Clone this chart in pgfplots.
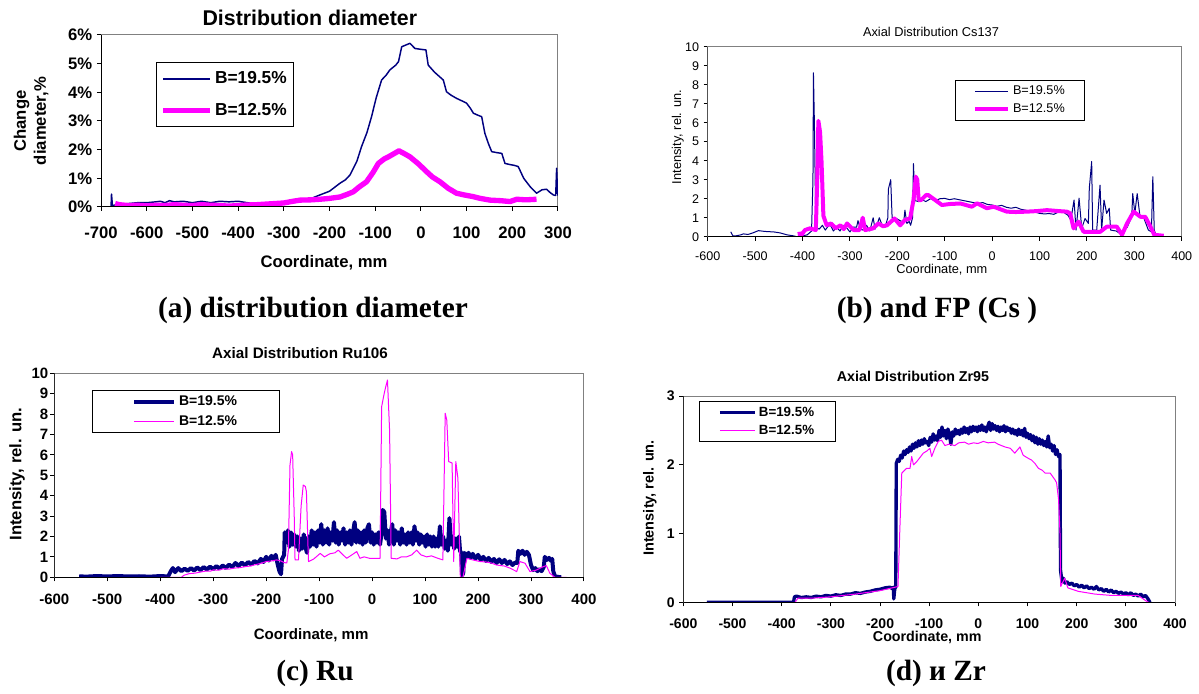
\documentclass[border=0pt]{standalone}
\usepackage{pgfplots}
\pgfplotsset{compat=1.18}
\usepackage{fontspec}
\setmainfont{Liberation Sans}
\newfontfamily\capfont{Liberation Serif}

\definecolor{navy}{RGB}{0,0,128}
\definecolor{mag}{RGB}{255,0,255}

\pgfplotsset{
  excel/.style={
    scale only axis, anchor=south west,
    axis line style={draw=gray, line width=0.75pt},
    tick align=outside, xtick pos=left, ytick pos=left,
    major tick length=3pt,
    tick style={black, line width=0.75pt},
    /pgf/number format/assume math mode=true,
    legend cell align=left,
    title style={anchor=center, yshift=0pt},
    xlabel style={anchor=center},
    ylabel style={anchor=center},
  },
}

\begin{document}
\begin{tikzpicture}
\useasboundingbox (0,0) rectangle (899.25pt,519.75pt);

% ---------- (a) diameter ----------
\begin{axis}[excel, at={(75.75pt,364.5pt)}, width=342.75pt, height=129pt,
  xmin=-700, xmax=300, ymin=0, ymax=6,
  xtick={-700,-600,...,300}, ytick={0,1,...,6},
  yticklabels={0\%,1\%,2\%,3\%,4\%,5\%,6\%},
  ticklabel style={font=\bfseries\fontsize{12.5}{15}\selectfont},
  xticklabel style={yshift=-8pt},
  title={Distribution diameter},
  title style={at={(0.457,1.053)}, font=\bfseries\fontsize{16}{19}\selectfont},
  xlabel={Coordinate, mm},
  xlabel style={at={(0.488,-0.326)}, font=\bfseries\fontsize{12.5}{15}\selectfont},
  ylabel={Change\\diameter,\%},
  ylabel style={at={(-0.153,0.5)}, align=center, font=\bfseries\fontsize{12.5}{15}\selectfont},
  legend image code/.code={\draw[#1] (0pt,0pt) -- (35pt,0pt);},
  legend style={at={(0.12,0.843)}, anchor=north west, draw=black, line width=0.75pt,
    font=\bfseries\fontsize{13}{15}\selectfont, inner xsep=3pt, inner ysep=5pt, row sep=9pt},
]
\addplot[navy, line width=1.1pt, line join=round] coordinates {
(-678,0.0) (-677,0.45) (-675,0.05) (-665,0.08) (-650,0.1) (-640,0.12) (-620,0.15)
(-600,0.15) (-580,0.18) (-570,0.2) (-560,0.15) (-550,0.22) (-540,0.18) (-520,0.2)
(-500,0.15) (-480,0.2) (-460,0.15) (-440,0.2) (-420,0.18) (-400,0.2) (-380,0.15)
(-360,0.12) (-340,0.1) (-320,0.05) (-300,0.12) (-280,0.2) (-264,0.24) (-240,0.3)
(-221,0.42) (-200,0.55) (-177,0.83) (-165,0.95) (-155,1.12) (-140,1.6) (-130,2.1)
(-118,2.6) (-108,3.15) (-98,3.8) (-86,4.43) (-76,4.6) (-68,4.78) (-55,4.95)
(-49,5.07) (-42,5.59) (-33,5.65) (-24,5.71) (-13,5.53) (0,5.5) (11,5.48) (16,4.95)
(30,4.7) (49,4.43) (56,4.02) (66,3.9) (78,3.79) (90,3.7) (100,3.62) (108,3.45)
(115,3.27) (125,3.2) (133,3.15) (140,2.57) (148,2.2) (155,1.93) (165,1.9) (177,1.87)
(184,1.52) (195,1.48) (205,1.45) (213,1.41) (225,1.0) (239,0.71) (253,0.48)
(265,0.6) (275,0.62) (283,0.5) (290,0.42) (295,0.4) (297,1.35) (299,0.5) (300,0.4)
};
\addlegendentry{B=19.5\%}
\addplot[mag, line width=4pt, line join=round] coordinates {
(-669,0.12) (-660,0.08) (-640,0.05) (-620,0.06) (-600,0.04) (-580,0.06) (-560,0.05)
(-540,0.08) (-520,0.06) (-500,0.05) (-480,0.08) (-460,0.06) (-440,0.05) (-420,0.03)
(-400,0.05) (-380,0.07) (-360,0.08) (-340,0.1) (-320,0.12) (-300,0.14) (-280,0.2)
(-264,0.24) (-240,0.25) (-221,0.27) (-200,0.3) (-177,0.35) (-160,0.45) (-148,0.53)
(-135,0.7) (-119,0.88) (-105,1.2) (-93,1.52) (-80,1.68) (-71,1.75) (-60,1.85)
(-48,1.96) (-35,1.85) (-24,1.75) (-5,1.5) (12.6,1.23) (25,1.05) (41.8,0.88)
(60,0.65) (78,0.48) (95,0.42) (115,0.36) (130,0.3) (151,0.24) (175,0.22) (195,0.19)
(210,0.27) (230,0.25) (253,0.27)
};
\addlegendentry{B=12.5\%}
\draw[black, line width=0.75pt] (rel axis cs:0,1) -- (rel axis cs:0,0) -- (rel axis cs:1,0);
\end{axis}

% ---------- (b) Cs137 ----------
\begin{axis}[excel, at={(530.8pt,342.2pt)}, width=355.5pt, height=142.5pt,
  xmin=-600, xmax=400, ymin=0, ymax=10,
  xtick={-600,-500,...,400}, ytick={0,1,...,10},
  ticklabel style={font=\fontsize{9.4}{11}\selectfont},
  xticklabel style={yshift=-4.5pt},
  title={Axial Distribution Cs137},
  title style={at={(0.471,1.036)}, font=\fontsize{9.6}{11}\selectfont},
  xlabel={Coordinate, mm},
  xlabel style={at={(0.494,-0.175)}, font=\fontsize{9.6}{11}\selectfont},
  ylabel={Intensity, rel. un.},
  ylabel style={at={(-0.063,0.525)}, font=\fontsize{9.6}{11}\selectfont},
  legend image code/.code={\draw[#1] (0pt,0pt) -- (25pt,0pt);},
  legend style={at={(0.522,0.825)}, anchor=north west, draw=black, line width=0.75pt,
    font=\fontsize{9.5}{11}\selectfont, inner xsep=13pt, inner ysep=2pt, row sep=1.5pt},
]
\addplot[navy, line width=0.75pt, line join=round] coordinates {
(-551.5,0.26) (-547,0.05) (-540,0.05) (-530,0.1) (-525,0.15) (-515,0.12) (-505,0.2)
(-493,0.32) (-480,0.28) (-460,0.25) (-447,0.2) (-433,0.1) (-420,0.05) (-412,0.0)
(-405,0.02) (-390,0.1) (-381,0.3) (-378,3.0) (-377,8.63) (-375,6.0) (-372,0.5)
(-365,0.4) (-358,0.6) (-352,0.35) (-346,0.55) (-341,0.6) (-335,0.3) (-328,0.5)
(-321,0.3) (-314,0.6) (-308,0.5) (-300,0.25) (-293,0.5) (-286,0.5) (-283,0.85)
(-278,0.4) (-272,0.35) (-265,0.6) (-258,0.3) (-251,1.0) (-247,0.4) (-242,0.7)
(-238,1.0) (-232,0.6) (-226,0.5) (-220,1.0) (-219,2.5) (-214,3.0) (-211,1.0)
(-205,1.0) (-198,0.9) (-191,0.8) (-186,0.9) (-184,1.4) (-180,0.7) (-175,0.8)
(-172,0.6) (-168,1.0) (-166,3.85) (-163,1.9) (-155,1.85) (-148,1.95) (-140,1.85)
(-130,2.0) (-120,1.9) (-110,2.0) (-100,2.02) (-90,1.95) (-80,2.0) (-70,1.95)
(-60,1.9) (-50,1.85) (-40,1.8) (-30,1.75) (-20,1.8) (-10,1.7) (0,1.67) (10,1.6)
(20,1.65) (30,1.55) (40,1.5) (50,1.55) (60,1.45) (70,1.4) (80,1.35) (90,1.3)
(100,1.23) (110,1.2) (120,1.22) (130,1.18) (140,1.3) (150,1.3) (160,1.13) (166,0.88)
(172.8,1.93) (177,0.35) (183.4,2.03) (189,0.44) (196,0.96) (203,0.7) (205,2.55)
(210,3.96) (212,0.35) (220.6,0.35) (227.6,2.72) (231,0.35) (236,1.93) (241.6,1.23)
(247,1.5) (250,0.35) (262,0.3) (269,0.18) (285,0.5) (294.5,1.05) (296.6,2.27)
(301,1.23) (306,2.27) (312,1.05) (319,1.05) (329.6,0.35) (336,0.26) (339,3.16)
(342,0.35) (347,0)
};
\addlegendentry{B=19.5\%}
\addplot[mag, line width=3pt, line join=round] coordinates {
(-406.7,0.26) (-405,0) (-395,0.35) (-384.6,0.44) (-372,0.35) (-369,3.0) (-366.6,6.1)
(-363,5.5) (-360,4.0) (-356,1.1) (-349,0.6) (-340,0.7) (-330,0.45) (-320,0.6)
(-313,0.4) (-306,0.7) (-292,0.35) (-280,0.35) (-273,1.0) (-268,0.35) (-251,0.44)
(-240,0.7) (-230,0.55) (-222,0.6) (-206,0.96) (-194,0.6) (-184,0.88) (-173,0.96)
(-166,1.93) (-161,3.16) (-158,3.0) (-155,1.93) (-150,1.93) (-139,2.2) (-134.6,2.19)
(-124,2.0) (-106,1.67) (-90,1.72) (-67,1.75) (-42.6,1.58) (-32,1.76) (-11,1.5)
(3,1.58) (31,1.32) (50,1.3) (73,1.32) (95,1.35) (115.5,1.4) (140,1.35) (157.7,1.32)
(164.7,1.23) (171.8,0.44) (182.3,0.79) (193,0.26) (228,0.26) (242,0.53) (263,0.53)
(274,0.1) (284.6,0.7) (298.7,1.32) (312.8,1.05) (323,1.05) (334,0.53) (342,0.1)
(362,0.05)
};
\addlegendentry{B=12.5\%}
\draw[black, line width=0.75pt] (rel axis cs:0,1) -- (rel axis cs:0,0) -- (rel axis cs:1,0);
\end{axis}

% ---------- (c) Ru106 ----------
\begin{axis}[excel, at={(40.7pt,86.8pt)}, width=397.3pt, height=153pt,
  xmin=-600, xmax=400, ymin=0, ymax=10,
  xtick={-600,-500,...,400}, ytick={0,1,...,10},
  ticklabel style={font=\bfseries\fontsize{11.25}{13}\selectfont},
  xticklabel style={yshift=-6pt},
  yticklabel style={xshift=2pt},
  title={Axial Distribution Ru106},
  title style={at={(0.464,1.06)}, font=\bfseries\fontsize{11.4}{13}\selectfont},
  xlabel={Coordinate, mm},
  xlabel style={at={(0.485,-0.283)}, font=\bfseries\fontsize{11.3}{13}\selectfont},
  ylabel={Intensity, rel. un.},
  ylabel style={at={(-0.070,0.506)}, font=\bfseries\fontsize{12.5}{15}\selectfont},
  legend image code/.code={\draw[#1] (0pt,0pt) -- (30pt,0pt);},
  legend style={at={(0.071,0.918)}, anchor=north west, draw=black, line width=0.75pt,
    font=\bfseries\fontsize{10.5}{12}\selectfont, inner xsep=30pt, inner ysep=2pt, row sep=2pt},
]
\addplot[navy, line width=3pt, line join=round] coordinates {
(-553,0.05) (-540,0.03) (-520,0.06) (-500,0.04) (-480,0.06) (-460,0.04) (-440,0.05)
(-420,0.03) (-400,0.06) (-385,0.04) (-380,0.3) (-376,0.45) (-372,0.25) (-366,0.45)
(-360,0.3) (-354,0.42) (-348,0.32) (-342,0.45) (-336,0.33) (-330,0.48) (-324,0.35)
(-318,0.5) (-312,0.38) (-306,0.52) (-300,0.4) (-294,0.55) (-288,0.42) (-282,0.58)
(-276,0.45) (-270,0.62) (-264,0.5) (-258,0.7) (-252,0.55) (-246,0.72) (-240,0.58)
(-234,0.75) (-228,0.62) (-222,0.8) (-216,0.68) (-210,0.9) (-205,0.75) (-200,1.0)
(-195,0.82) (-190,1.05) (-186,0.88) (-182,1.1) (-178,0.6) (-175,0.3) (-172,0.15)
(-170,0.9) (-168,1.0) (-166,1.1) (-165,2.2) (-162,1.7) (-159,2.3) (-156,1.5)
(-153,2.2) (-150,1.6) (-147,2.1) (-144,1.5) (-141,2.0) (-138,1.3) (-135,1.9)
(-132,1.4) (-129,2.1) (-126,1.5) (-123,1.2) (-120,2.0) (-117,1.5) (-114,2.3)
(-111,1.6) (-108,2.2) (-105,1.5) (-102,2.3) (-99,1.7) (-96,2.6) (-93,1.6) (-90,2.3)
(-87,1.7) (-84,2.4) (-81,1.6) (-78,2.2) (-75,1.8) (-72,2.7) (-69,1.7) (-66,2.3)
(-63,1.6) (-60,2.2) (-57,1.8) (-54,2.4) (-51,1.6) (-48,2.2) (-45,1.7) (-42,2.3)
(-39,1.6) (-36,2.2) (-33,2.7) (-30,1.7) (-27,2.3) (-24,1.7) (-21,2.2) (-18,1.6)
(-15,2.3) (-12,1.7) (-9,2.4) (-6,2.6) (-3,1.7) (0,2.2) (3,1.6) (6,2.1) (9,1.7)
(12,2.2) (15,1.6) (18,2.2) (20,3.3) (23,3.2) (26,1.9) (29,2.3) (32,1.6) (35,2.2)
(38,2.6) (41,1.6) (44,2.3) (47,1.8) (50,2.2) (53,1.6) (56,2.4) (59,1.7) (62,2.1)
(65,1.6) (68,2.2) (71,1.7) (74,2.2) (77,1.6) (80,2.5) (83,1.8) (86,2.2) (89,1.6)
(92,2.1) (95,1.7) (98,2.0) (101,1.5) (104,2.1) (107,1.6) (110,2.0) (113,1.5)
(116,2.0) (119,1.5) (122,1.9) (125,1.5) (128,2.5) (131,1.6) (134,2.0) (137,1.4)
(140,1.8) (143,1.3) (146,2.9) (149,1.6) (152,2.0) (155,1.4) (158,1.9) (161,1.5)
(164,2.0) (166,1.3) (168,1.2) (170,0.1) (172,0.2) (174,1.2) (178,1.0) (182,1.2)
(186,0.95) (190,1.15) (195,0.9) (200,1.1) (205,0.85) (210,1.0) (215,0.8) (220,0.95)
(225,0.75) (230,0.9) (235,0.7) (240,0.88) (245,0.7) (250,0.85) (255,0.65) (260,0.78)
(265,0.6) (270,0.72) (274,0.7) (276,1.3) (280,1.15) (284,1.3) (288,1.1) (292,1.25)
(296,1.1) (300,0.6) (304,0.35) (308,0.45) (312,0.3) (316,0.4) (320,0.3) (324,0.5)
(326,1.0) (330,0.85) (334,0.95) (338,0.8) (340,0.9) (342,0.3) (345,0.05) (350,0.02)
(357,0.0)
};
\addlegendentry{B=19.5\%}
\addplot[mag, line width=0.75pt, line join=round] coordinates {
(-400,0) (-360,0) (-355,0.1) (-345,0.18) (-335,0.2) (-325,0.25) (-315,0.3) (-305,0.3)
(-300,0.36) (-290,0.35) (-280,0.42) (-270,0.4) (-260,0.45) (-250,0.47) (-240,0.52)
(-230,0.55) (-220,0.62) (-210,0.68) (-200,0.77) (-190,0.8) (-180,0.85) (-172,0.8)
(-166,0.72) (-161,0.7) (-158,1.34) (-155,5.5) (-152,6.16) (-150,6.0) (-147,3.0)
(-145.5,0.85) (-139,0.85) (-134,3.5) (-130,4.52) (-126,4.45) (-124,4.2) (-121,1.5)
(-120,0.77) (-110,0.9) (-98,1.17) (-90,1.0) (-80,1.15) (-70,1.2) (-64,1.33)
(-55,1.1) (-48,0.93) (-38,1.1) (-29,1.26) (-23,0.93) (-15,1.0) (-5,0.93) (5,0.93)
(15,0.93) (18,8.36) (22,8.9) (25,9.26) (29,9.67) (33,7.2) (36,0.93) (47,0.9)
(55,1.0) (65,1.0) (75,1.1) (84,1.33) (92,1.1) (103,1.0) (112,1.05) (122,0.95)
(133.6,0.85) (138,8.04) (141,7.7) (144.6,5.67) (151,5.6) (154,0.77) (158,5.67)
(162,4.85) (166.5,0) (171.5,0) (179,0.93) (190,0.85) (204,0.77) (215,0.75)
(225,0.7) (235,0.6) (250,0.55) (260,0.45) (273,0.28) (279,0.77) (288.6,0.69)
(298,0.28) (310,0.35) (323,0.52) (329,0.57) (335.5,0.2) (345,0) (367,0)
};
\addlegendentry{B=12.5\%}
\draw[black, line width=0.75pt] (rel axis cs:0,1) -- (rel axis cs:0,0) -- (rel axis cs:1,0);
\end{axis}

% ---------- (d) Zr95 ----------
\begin{axis}[excel, at={(512.5pt,68pt)}, width=368.8pt, height=154.7pt,
  xmin=-600, xmax=400, ymin=0, ymax=3,
  xtick={-600,-500,...,400}, ytick={0,1,2,3},
  ticklabel style={font=\bfseries\fontsize{10.5}{12}\selectfont},
  xticklabel style={yshift=-6pt},
  title={Axial Distribution Zr95},
  title style={at={(0.467,1.058)}, font=\bfseries\fontsize{10.7}{13}\selectfont},
  xlabel={Coordinate, mm},
  xlabel style={at={(0.496,-0.168)}, font=\bfseries\fontsize{10.7}{13}\selectfont},
  ylabel={Intensity, rel. un.},
  ylabel style={at={(-0.068,0.506)}, font=\bfseries\fontsize{10.9}{13}\selectfont},
  legend image code/.code={\draw[#1] (0pt,0pt) -- (26pt,0pt);},
  legend style={at={(0.032,0.976)}, anchor=north west, draw=black, line width=0.75pt,
    font=\bfseries\fontsize{10}{12}\selectfont, inner xsep=14pt, inner ysep=2pt, row sep=1pt},
]
\addplot[navy, line width=2.5pt, line join=round] coordinates {
(-552,0) (-376,0) (-374,0.08) (-370,0.09) (-360,0.07) (-350,0.08) (-340,0.07)
(-330,0.09) (-320,0.08) (-310,0.1) (-300,0.09) (-290,0.11) (-280,0.1) (-270,0.12)
(-260,0.12) (-250,0.14) (-240,0.13) (-230,0.15) (-220,0.16) (-210,0.18) (-200,0.19)
(-190,0.21) (-180,0.22) (-175,0.2) (-173,0.22) (-172,0.05) (-170,0.2) (-168,0.22)
(-167,2.02) (-164,2.08) (-161,2.05) (-158,2.14) (-155,2.1) (-152,2.2) (-149,2.15)
(-146,2.22) (-143,2.18) (-140,2.26) (-137,2.2) (-134,2.3) (-131,2.24) (-128,2.32)
(-125,2.26) (-122,2.35) (-119,2.28) (-116,2.36) (-113,2.3) (-110,2.38) (-107,2.32)
(-104,2.34) (-101,2.28) (-98,2.4) (-95,2.33) (-92,2.45) (-89,2.36) (-86,2.42)
(-83,2.35) (-80,2.5) (-77,2.4) (-74,2.55) (-71,2.42) (-68,2.5) (-65,2.38) (-62,2.52)
(-59,2.45) (-56,2.3) (-53,2.48) (-50,2.42) (-47,2.52) (-44,2.45) (-41,2.5) (-38,2.44)
(-35,2.52) (-32,2.46) (-29,2.55) (-26,2.47) (-23,2.53) (-20,2.45) (-17,2.55)
(-14,2.48) (-11,2.56) (-8,2.5) (-5,2.55) (-2,2.48) (1,2.56) (4,2.5) (7,2.58)
(10,2.5) (13,2.55) (16,2.48) (19,2.56) (22,2.62) (25,2.5) (28,2.6) (31,2.52)
(34,2.57) (37,2.5) (40,2.56) (43,2.48) (46,2.55) (49,2.5) (52,2.57) (55,2.48)
(58,2.55) (61,2.5) (64,2.53) (67,2.46) (70,2.52) (73,2.45) (76,2.5) (79,2.43)
(82,2.52) (85,2.44) (88,2.5) (91,2.42) (94,2.53) (97,2.4) (100,2.46) (103,2.38)
(106,2.44) (109,2.35) (112,2.42) (115,2.32) (118,2.4) (121,2.3) (124,2.38) (127,2.3)
(130,2.36) (133,2.28) (136,2.34) (139,2.26) (142,2.42) (145,2.25) (148,2.3) (151,2.2)
(154,2.28) (157,2.15) (160,2.22) (163,2.12) (166,2.15) (167,0.47) (170,0.3)
(173,0.35) (176,0.28) (180,0.3) (185,0.26) (190,0.28) (195,0.24) (200,0.26)
(205,0.22) (210,0.25) (215,0.21) (220,0.24) (225,0.2) (230,0.22) (235,0.19)
(240,0.23) (245,0.18) (250,0.2) (255,0.16) (260,0.19) (265,0.15) (270,0.18)
(275,0.14) (280,0.16) (285,0.13) (290,0.15) (295,0.12) (300,0.14) (305,0.11)
(310,0.14) (315,0.1) (320,0.12) (325,0.09) (330,0.12) (335,0.08) (340,0.1)
(345,0.05) (349,0)
};
\addlegendentry{B=19.5\%}
\addplot[mag, line width=0.75pt, line join=round] coordinates {
(-373,0) (-367,0.06) (-340,0.06) (-300,0.08) (-250,0.12) (-200,0.17) (-163.5,0.23)
(-160,1.0) (-155.8,1.88) (-146,1.95) (-139,1.95) (-135.6,2.12) (-132,2.0) (-125,2.05)
(-112,2.17) (-105,2.2) (-98.6,2.24) (-95,2.12) (-88,2.25) (-81.6,2.34) (-75,2.36)
(-68,2.28) (-60,2.3) (-48,2.28) (-40,2.32) (-28,2.33) (-20,2.3) (-10,2.32)
(-1,2.31) (10,2.34) (20,2.32) (33,2.33) (40,2.3) (54,2.26) (65,2.24) (74,2.17)
(84.5,2.26) (91,2.14) (100,2.1) (108,2.07) (115,2.02) (122,1.95) (130,1.92)
(135.7,1.88) (146,1.88) (152,1.82) (156,1.78) (159,1.74) (163,1.5) (166,1.0)
(167.5,0.23) (172,0.3) (175.6,0.35) (182,0.21) (203,0.16) (237,0.12) (271,0.1)
(305,0.1) (325,0.1) (339,0.03) (346,0)
};
\addlegendentry{B=12.5\%}
\draw[black, line width=0.75pt] (rel axis cs:0,1) -- (rel axis cs:0,0) -- (rel axis cs:1,0);
\end{axis}

% ---------- captions ----------
\begin{scope}[font=\capfont\bfseries\fontsize{22}{26}\selectfont]
\node at (234.75pt,287pt) {(a) distribution diameter};
\node at (702.75pt,287pt) {(b) and FP (Cs )};
\node at (236.25pt,15pt) {(c) Ru};
\node at (702pt,15pt) {(d) и Zr};
\end{scope}
\end{tikzpicture}
\end{document}
